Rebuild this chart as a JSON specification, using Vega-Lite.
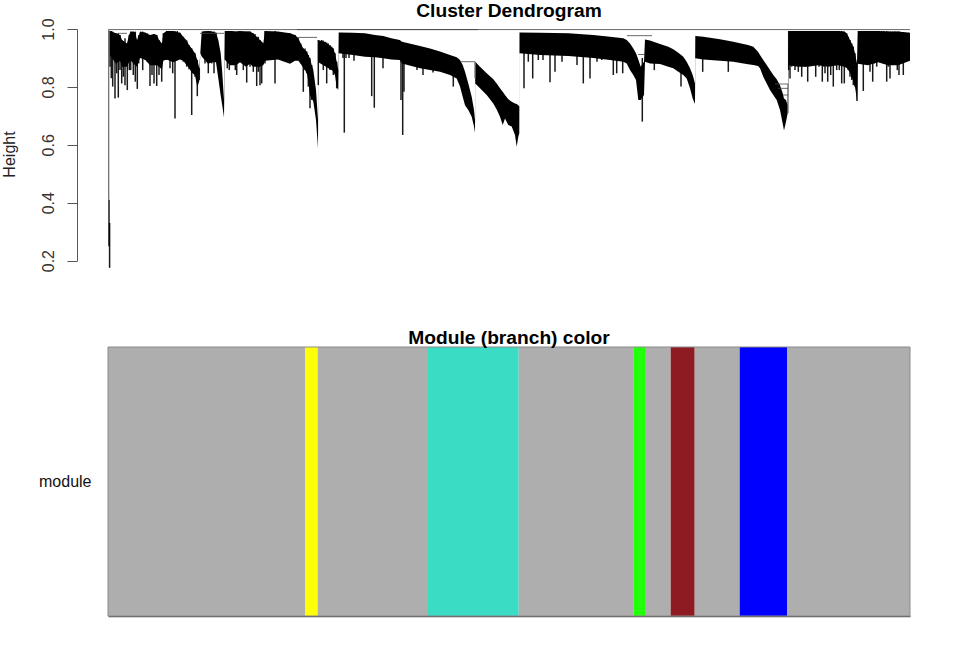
{"$schema":"https://vega.github.io/schema/vega-lite/v6.json","background":"white","padding":{"left":0,"top":1,"right":51,"bottom":30},"spacing":57,"config":{"view":{"stroke":null},"font":"Liberation Sans","title":{"font":"Liberation Sans","fontSize":19.2,"fontWeight":"bold","color":"#000000","anchor":"middle"}},
"datasets":{"body":[
{"x":2,"top":0.993,"bottom":0.91},{"x":8,"top":0.985,"bottom":0.88},{"x":12,"top":0.979,"bottom":0.89},{"x":14,"top":0.962,"bottom":0.87},{"x":19,"top":0.95,"bottom":0.87},{"x":21,"top":0.979,"bottom":0.885},{"x":23,"top":0.991,"bottom":0.89},{"x":27,"top":0.99,"bottom":0.875},{"x":29,"top":0.962,"bottom":0.87},{"x":31,"top":0.979,"bottom":0.89},{"x":32,"top":0.991,"bottom":0.9},{"x":37,"top":0.988,"bottom":0.895},{"x":42,"top":0.979,"bottom":0.875},{"x":46,"top":0.983,"bottom":0.875},{"x":49,"top":0.979,"bottom":0.875},{"x":51,"top":0.962,"bottom":0.87},{"x":54,"top":0.95,"bottom":0.86},{"x":55.3,"top":0.985,"bottom":0.89},{"x":58.7,"top":0.993,"bottom":0.895},{"x":65,"top":0.993,"bottom":0.885},{"x":72,"top":0.987,"bottom":0.895},{"x":75.3,"top":0.973,"bottom":0.89},{"x":78.7,"top":0.96,"bottom":0.875},{"x":81,"top":0.945,"bottom":0.865},{"x":83.7,"top":0.933,"bottom":0.85},{"x":87,"top":0.916,"bottom":0.84},{"x":89.3,"top":0.893,"bottom":0.8},{"x":91.3,"top":0.864,"bottom":0.82},{"x":92.3,"top":0.916,"bottom":0.916},{"x":93.7,"top":0.991,"bottom":0.905},{"x":100,"top":0.993,"bottom":0.88},{"x":104,"top":0.991,"bottom":0.885},{"x":108,"top":0.987,"bottom":0.885},{"x":110.3,"top":0.962,"bottom":0.83},{"x":112.7,"top":0.916,"bottom":0.77},{"x":114.3,"top":0.847,"bottom":0.735},{"x":116,"top":0.755,"bottom":0.694},{"x":116.7,"top":0.993,"bottom":0.895},{"x":122,"top":0.993,"bottom":0.875},{"x":128,"top":0.991,"bottom":0.875},{"x":132,"top":0.993,"bottom":0.885},{"x":138,"top":0.991,"bottom":0.87},{"x":142,"top":0.991,"bottom":0.88},{"x":145,"top":0.985,"bottom":0.87},{"x":148.7,"top":0.973,"bottom":0.87},{"x":152,"top":0.962,"bottom":0.87},{"x":155.3,"top":0.95,"bottom":0.875},{"x":157,"top":0.993,"bottom":0.89},{"x":170,"top":0.991,"bottom":0.895},{"x":182,"top":0.985,"bottom":0.88},{"x":187,"top":0.979,"bottom":0.89},{"x":190.3,"top":0.968,"bottom":0.89},{"x":192.7,"top":0.95,"bottom":0.88},{"x":195.3,"top":0.933,"bottom":0.865},{"x":198.7,"top":0.922,"bottom":0.85},{"x":200.3,"top":0.91,"bottom":0.82},{"x":202,"top":0.899,"bottom":0.77},{"x":203.7,"top":0.876,"bottom":0.76},{"x":205.3,"top":0.858,"bottom":0.75},{"x":208,"top":0.789,"bottom":0.686},{"x":210,"top":0.686,"bottom":0.588},
{"x":210.3,"top":0.962,"bottom":0.885},{"x":218,"top":0.953,"bottom":0.87},{"x":225,"top":0.933,"bottom":0.855},{"x":227,"top":0.916,"bottom":0.84},{"x":228.7,"top":0.887,"bottom":0.8},{"x":230.3,"top":0.858,"bottom":0.789},
{"x":230.7,"top":0.988,"bottom":0.916},{"x":245,"top":0.987,"bottom":0.91},{"x":257,"top":0.985,"bottom":0.904},{"x":267,"top":0.979,"bottom":0.902},{"x":275.3,"top":0.976,"bottom":0.899},{"x":283.3,"top":0.968,"bottom":0.895},{"x":291.7,"top":0.962,"bottom":0.893},{"x":294,"top":0.956,"bottom":0.881},{"x":312,"top":0.941,"bottom":0.864},{"x":322,"top":0.933,"bottom":0.858},{"x":332,"top":0.922,"bottom":0.852},{"x":342,"top":0.91,"bottom":0.841},{"x":348.7,"top":0.902,"bottom":0.829},{"x":352,"top":0.893,"bottom":0.801},{"x":354.7,"top":0.876,"bottom":0.766},{"x":357,"top":0.852,"bottom":0.737},{"x":360.3,"top":0.812,"bottom":0.72},{"x":363.7,"top":0.766,"bottom":0.697},{"x":366,"top":0.72,"bottom":0.663},{"x":367,"top":0.686,"bottom":0.642},
{"x":367.3,"top":0.887,"bottom":0.812},{"x":372,"top":0.87,"bottom":0.795},{"x":378.7,"top":0.847,"bottom":0.772},{"x":385.3,"top":0.826,"bottom":0.743},{"x":388.7,"top":0.812,"bottom":0.722},{"x":392,"top":0.795,"bottom":0.697},{"x":394.7,"top":0.783,"bottom":0.668},{"x":397,"top":0.772,"bottom":0.691},{"x":400.3,"top":0.757,"bottom":0.668},{"x":403.7,"top":0.749,"bottom":0.663},{"x":407,"top":0.743,"bottom":0.634},{"x":408.7,"top":0.741,"bottom":0.593},{"x":410.3,"top":0.737,"bottom":0.628},{"x":411.3,"top":0.732,"bottom":0.64},
{"x":411.5,"top":0.988,"bottom":0.916},{"x":432,"top":0.987,"bottom":0.91},{"x":460.3,"top":0.985,"bottom":0.907},{"x":485.3,"top":0.979,"bottom":0.9},{"x":502,"top":0.973,"bottom":0.893},{"x":515.3,"top":0.968,"bottom":0.887},{"x":518.7,"top":0.962,"bottom":0.881},{"x":522,"top":0.95,"bottom":0.858},{"x":525.3,"top":0.933,"bottom":0.841},{"x":528,"top":0.916,"bottom":0.824},{"x":530.3,"top":0.895,"bottom":0.755},{"x":532.7,"top":0.87,"bottom":0.755},{"x":536,"top":0.887,"bottom":0.772},
{"x":537,"top":0.964,"bottom":0.887},{"x":542,"top":0.96,"bottom":0.881},{"x":552,"top":0.948,"bottom":0.879},{"x":560.3,"top":0.939,"bottom":0.87},{"x":565.3,"top":0.93,"bottom":0.864},{"x":570.3,"top":0.918,"bottom":0.852},{"x":575.3,"top":0.904,"bottom":0.841},{"x":578.7,"top":0.887,"bottom":0.829},{"x":582,"top":0.864,"bottom":0.795},{"x":584.7,"top":0.841,"bottom":0.76},{"x":587,"top":0.812,"bottom":0.741},
{"x":587.3,"top":0.976,"bottom":0.899},{"x":595.3,"top":0.973,"bottom":0.895},{"x":612,"top":0.965,"bottom":0.89},{"x":625.3,"top":0.956,"bottom":0.887},{"x":640,"top":0.945,"bottom":0.878},{"x":645.3,"top":0.939,"bottom":0.876},{"x":650,"top":0.921,"bottom":0.872},{"x":652,"top":0.91,"bottom":0.864},{"x":655.3,"top":0.893,"bottom":0.835},{"x":658.7,"top":0.876,"bottom":0.812},{"x":662,"top":0.858,"bottom":0.789},{"x":665.3,"top":0.841,"bottom":0.772},{"x":668.7,"top":0.826,"bottom":0.755},{"x":672,"top":0.806,"bottom":0.72},{"x":674.7,"top":0.778,"bottom":0.674},{"x":676,"top":0.76,"bottom":0.649},{"x":678,"top":0.755,"bottom":0.68},{"x":679.7,"top":0.737,"bottom":0.709},
{"x":680.7,"top":0.993,"bottom":0.875},{"x":690,"top":0.993,"bottom":0.87},{"x":700,"top":0.993,"bottom":0.87},{"x":710,"top":0.993,"bottom":0.875},{"x":720,"top":0.993,"bottom":0.87},{"x":730,"top":0.993,"bottom":0.875},{"x":736.3,"top":0.991,"bottom":0.87},{"x":738.7,"top":0.985,"bottom":0.865},{"x":742,"top":0.962,"bottom":0.85},{"x":745.3,"top":0.939,"bottom":0.82},{"x":747,"top":0.916,"bottom":0.8},{"x":749,"top":0.881,"bottom":0.755},{"x":749.7,"top":0.993,"bottom":0.88},{"x":760,"top":0.993,"bottom":0.875},{"x":770,"top":0.993,"bottom":0.885},{"x":780,"top":0.991,"bottom":0.875},{"x":790,"top":0.991,"bottom":0.875},{"x":802,"top":0.987,"bottom":0.89}
],"needles":[
{"x":2,"top":0.993,"bottom":0.87},{"x":3.3,"top":0.993,"bottom":0.83},{"x":4.7,"top":0.991,"bottom":0.801},{"x":7,"top":0.985,"bottom":0.76},{"x":8.7,"top":0.985,"bottom":0.847},{"x":10.3,"top":0.985,"bottom":0.763},{"x":12,"top":0.979,"bottom":0.858},{"x":13.7,"top":0.962,"bottom":0.812},{"x":15.3,"top":0.956,"bottom":0.835},{"x":17,"top":0.968,"bottom":0.806},{"x":19.3,"top":0.95,"bottom":0.789},{"x":21.3,"top":0.979,"bottom":0.858},{"x":22.7,"top":0.991,"bottom":0.858},{"x":25.3,"top":0.991,"bottom":0.841},{"x":27.3,"top":0.991,"bottom":0.818},{"x":29.3,"top":0.962,"bottom":0.793},{"x":30.7,"top":0.979,"bottom":0.881},{"x":34.7,"top":0.991,"bottom":0.858},{"x":37,"top":0.987,"bottom":0.893},{"x":39.3,"top":0.985,"bottom":0.887},{"x":42,"top":0.979,"bottom":0.803},{"x":44,"top":0.979,"bottom":0.841},{"x":46,"top":0.983,"bottom":0.812},{"x":48.7,"top":0.979,"bottom":0.803},{"x":51,"top":0.962,"bottom":0.841},{"x":53.7,"top":0.95,"bottom":0.818},{"x":55.3,"top":0.985,"bottom":0.893},{"x":58.7,"top":0.993,"bottom":0.893},{"x":62,"top":0.993,"bottom":0.864},{"x":64.7,"top":0.993,"bottom":0.847},{"x":67,"top":0.993,"bottom":0.691},{"x":69.3,"top":0.993,"bottom":0.893},{"x":72,"top":0.987,"bottom":0.899},{"x":75.3,"top":0.973,"bottom":0.887},{"x":78.7,"top":0.96,"bottom":0.87},{"x":81,"top":0.945,"bottom":0.861},{"x":83.7,"top":0.933,"bottom":0.703},{"x":87,"top":0.916,"bottom":0.835},{"x":89.3,"top":0.893,"bottom":0.768},{"x":91.3,"top":0.864,"bottom":0.824},{"x":97,"top":0.993,"bottom":0.881},{"x":100.3,"top":0.993,"bottom":0.847},{"x":102,"top":0.993,"bottom":0.893},{"x":103.7,"top":0.991,"bottom":0.881},{"x":106,"top":0.991,"bottom":0.847},{"x":108,"top":0.987,"bottom":0.893},{"x":119.3,"top":0.993,"bottom":0.864},{"x":121.3,"top":0.991,"bottom":0.858},{"x":123.3,"top":0.993,"bottom":0.904},{"x":125.3,"top":0.993,"bottom":0.887},{"x":127.3,"top":0.991,"bottom":0.858},{"x":128.7,"top":0.991,"bottom":0.841},{"x":130.3,"top":0.991,"bottom":0.893},{"x":132,"top":0.993,"bottom":0.887},{"x":135.3,"top":0.991,"bottom":0.858},{"x":137,"top":0.991,"bottom":0.881},{"x":138.7,"top":0.991,"bottom":0.815},{"x":140.3,"top":0.991,"bottom":0.881},{"x":142,"top":0.991,"bottom":0.87},{"x":145.3,"top":0.985,"bottom":0.852},{"x":147,"top":0.983,"bottom":0.881},{"x":148.7,"top":0.973,"bottom":0.803},{"x":150.3,"top":0.973,"bottom":0.852},{"x":152,"top":0.962,"bottom":0.806},{"x":153.7,"top":0.956,"bottom":0.812},{"x":155.3,"top":0.95,"bottom":0.881},{"x":157,"top":0.993,"bottom":0.881},{"x":167,"top":0.993,"bottom":0.812},{"x":182,"top":0.985,"bottom":0.887},{"x":187,"top":0.979,"bottom":0.893},{"x":190.3,"top":0.968,"bottom":0.893},{"x":192.7,"top":0.95,"bottom":0.881},{"x":195.3,"top":0.933,"bottom":0.783},{"x":197,"top":0.933,"bottom":0.858},{"x":198.7,"top":0.922,"bottom":0.847},{"x":200.3,"top":0.91,"bottom":0.801},{"x":202,"top":0.899,"bottom":0.726},{"x":203.7,"top":0.876,"bottom":0.755},
{"x":210.3,"top":0.962,"bottom":0.806},{"x":213.7,"top":0.962,"bottom":0.881},{"x":215.3,"top":0.96,"bottom":0.858},{"x":217,"top":0.956,"bottom":0.881},{"x":218.7,"top":0.953,"bottom":0.812},{"x":220.3,"top":0.95,"bottom":0.881},{"x":222,"top":0.945,"bottom":0.858},{"x":223.7,"top":0.939,"bottom":0.87},{"x":225.3,"top":0.933,"bottom":0.841},{"x":227,"top":0.916,"bottom":0.858},{"x":228.7,"top":0.887,"bottom":0.795},
{"x":235,"top":0.95,"bottom":0.9},{"x":236.3,"top":0.95,"bottom":0.642},{"x":238,"top":0.95,"bottom":0.9},{"x":241,"top":0.95,"bottom":0.9},{"x":246,"top":0.95,"bottom":0.89},{"x":263.7,"top":0.95,"bottom":0.768},{"x":266.3,"top":0.95,"bottom":0.728},{"x":275,"top":0.95,"bottom":0.864},{"x":293,"top":0.95,"bottom":0.755},{"x":294.7,"top":0.95,"bottom":0.634},{"x":296,"top":0.93,"bottom":0.783},{"x":309,"top":0.9,"bottom":0.858},{"x":315,"top":0.9,"bottom":0.841},{"x":325,"top":0.9,"bottom":0.85},{"x":345.3,"top":0.88,"bottom":0.801},
{"x":416,"top":0.95,"bottom":0.795},{"x":420.3,"top":0.95,"bottom":0.887},{"x":424.7,"top":0.95,"bottom":0.829},{"x":430.3,"top":0.95,"bottom":0.893},{"x":435,"top":0.95,"bottom":0.893},{"x":442,"top":0.95,"bottom":0.816},{"x":447,"top":0.95,"bottom":0.852},{"x":454,"top":0.95,"bottom":0.887},{"x":469,"top":0.95,"bottom":0.876},{"x":475.3,"top":0.95,"bottom":0.812},{"x":482,"top":0.95,"bottom":0.829},{"x":489,"top":0.95,"bottom":0.887},{"x":493.7,"top":0.95,"bottom":0.893},{"x":505.3,"top":0.92,"bottom":0.841},{"x":508.7,"top":0.92,"bottom":0.847},{"x":514.7,"top":0.92,"bottom":0.847},{"x":534.3,"top":0.9,"bottom":0.68},{"x":546.3,"top":0.93,"bottom":0.858},{"x":573,"top":0.9,"bottom":0.801},{"x":594.7,"top":0.93,"bottom":0.852},{"x":620.3,"top":0.93,"bottom":0.852},
{"x":680.7,"top":0.993,"bottom":0.858},{"x":682,"top":0.993,"bottom":0.829},{"x":683.7,"top":0.993,"bottom":0.87},{"x":687,"top":0.993,"bottom":0.858},{"x":690.3,"top":0.993,"bottom":0.852},{"x":692,"top":0.993,"bottom":0.881},{"x":693.7,"top":0.993,"bottom":0.835},{"x":697,"top":0.993,"bottom":0.87},{"x":699.7,"top":0.993,"bottom":0.818},{"x":702,"top":0.993,"bottom":0.881},{"x":703.7,"top":0.993,"bottom":0.876},{"x":707.7,"top":0.993,"bottom":0.835},{"x":709.3,"top":0.993,"bottom":0.881},{"x":711,"top":0.993,"bottom":0.87},{"x":714.3,"top":0.993,"bottom":0.818},{"x":716,"top":0.993,"bottom":0.87},{"x":717,"top":0.993,"bottom":0.847},{"x":719.7,"top":0.993,"bottom":0.818},{"x":721.3,"top":0.993,"bottom":0.881},{"x":722.7,"top":0.993,"bottom":0.841},{"x":725.3,"top":0.993,"bottom":0.801},{"x":727,"top":0.993,"bottom":0.881},{"x":728.7,"top":0.993,"bottom":0.858},{"x":731.3,"top":0.993,"bottom":0.858},{"x":733.7,"top":0.993,"bottom":0.812},{"x":736.3,"top":0.991,"bottom":0.812},{"x":738.7,"top":0.985,"bottom":0.87},{"x":740.3,"top":0.973,"bottom":0.858},{"x":742,"top":0.962,"bottom":0.835},{"x":743.7,"top":0.95,"bottom":0.824},{"x":745.3,"top":0.939,"bottom":0.806},{"x":747,"top":0.916,"bottom":0.801},{"x":749,"top":0.881,"bottom":0.751},{"x":752,"top":0.993,"bottom":0.881},{"x":755.3,"top":0.993,"bottom":0.786},{"x":757,"top":0.993,"bottom":0.881},{"x":758.7,"top":0.993,"bottom":0.881},{"x":762,"top":0.993,"bottom":0.852},{"x":764.7,"top":0.993,"bottom":0.818},{"x":766.3,"top":0.993,"bottom":0.881},{"x":768.7,"top":0.993,"bottom":0.87},{"x":771.3,"top":0.993,"bottom":0.887},{"x":773.7,"top":0.993,"bottom":0.887},{"x":776,"top":0.993,"bottom":0.881},{"x":778.7,"top":0.993,"bottom":0.818},{"x":780.3,"top":0.991,"bottom":0.87},{"x":782,"top":0.991,"bottom":0.829},{"x":784.7,"top":0.991,"bottom":0.881},{"x":787,"top":0.991,"bottom":0.881},{"x":789.3,"top":0.991,"bottom":0.858},{"x":791,"top":0.991,"bottom":0.841},{"x":793,"top":0.987,"bottom":0.887},{"x":795.3,"top":0.987,"bottom":0.841},{"x":797,"top":0.987,"bottom":0.887},{"x":800.3,"top":0.987,"bottom":0.893},
{"x":1,"top":0.41,"bottom":0.25},{"x":1.6,"top":0.33,"bottom":0.175}
],"links":[
{"x":0.5,"x2":802,"h":0.998},{"x":189,"x2":370,"h":0.998},{"x":189,"x2":209,"h":0.971},{"x":92,"x2":116,"h":0.985},{"x":10,"x2":19,"h":0.985},{"x":352,"x2":367,"h":0.887},{"x":519,"x2":544,"h":0.977},{"x":530,"x2":537,"h":0.912},{"x":667,"x2":680,"h":0.81},{"x":670,"x2":680,"h":0.795},{"x":675,"x2":680,"h":0.772}
],"stems":[{"x":0.7,"top":0.998,"bottom":0.41},{"x":680,"top":0.81,"bottom":0.71},{"x":367,"top":0.887,"bottom":0.83}],
"modules":[
{"track":"module","start":0,"end":197,"module":"grey"},{"track":"module","start":197,"end":209.7,"module":"yellow"},{"track":"module","start":209.7,"end":320,"module":"grey"},{"track":"module","start":320,"end":410.7,"module":"turquoise"},{"track":"module","start":410.7,"end":525.3,"module":"grey"},{"track":"module","start":525.3,"end":537,"module":"green"},{"track":"module","start":537,"end":562.7,"module":"grey"},{"track":"module","start":562.7,"end":586.7,"module":"brown"},{"track":"module","start":586.7,"end":631.7,"module":"grey"},{"track":"module","start":631.7,"end":679,"module":"blue"},{"track":"module","start":679,"end":802,"module":"grey"}
],"frame":[{"track":"module","start":0,"end":802}]},
"vconcat":[
{"width":802,"height":231.6,"title":{"text":"Cluster Dendrogram","offset":-3},
"layer":[
{"data":{"name":"body"},"mark":{"type":"area","color":"#000000","clip":false,"interpolate":"linear"},"encoding":{"x":{"field":"x","type":"quantitative","scale":{"domain":[0,802],"nice":false,"zero":false},"axis":null},"y":{"field":"top","type":"quantitative","scale":{"domain":[0.2,1],"nice":false,"zero":false,"clamp":false},"axis":{"title":"Height","titleFontSize":16,"titleFontWeight":"normal","titleFont":"Liberation Sans","titleColor":"#222222","titlePadding":23,"titleY":125,"values":[0.2,0.4,0.6,0.8,1],"format":".1f","labelAngle":-90,"labelAlign":"center","labelBaseline":"bottom","labelFontSize":16,"labelFont":"Liberation Sans","labelColor":"#333333","labelPadding":11,"tickSize":10,"tickColor":"#555555","domainColor":"#555555","offset":31,"grid":false}},"y2":{"field":"bottom"}}},
{"data":{"name":"needles"},"mark":{"type":"rule","color":"#000000","strokeWidth":1.5,"opacity":0.9},"encoding":{"x":{"field":"x","type":"quantitative"},"y":{"field":"top","type":"quantitative"},"y2":{"field":"bottom"}}},
{"data":{"name":"stems"},"mark":{"type":"rule","color":"#666666","strokeWidth":1.2},"encoding":{"x":{"field":"x","type":"quantitative"},"y":{"field":"top","type":"quantitative"},"y2":{"field":"bottom"}}},
{"data":{"name":"links"},"mark":{"type":"rule","color":"#444444","strokeWidth":0.8},"encoding":{"x":{"field":"x","type":"quantitative"},"x2":{"field":"x2"},"y":{"field":"h","type":"quantitative"}}}
]},
{"width":802,"height":269,"title":{"text":"Module (branch) color","offset":-2},
"layer":[
{"data":{"name":"modules"},"mark":{"type":"rect"},"encoding":{"x":{"field":"start","type":"quantitative","scale":{"domain":[0,802],"nice":false,"zero":false},"axis":{"title":null,"labels":false,"ticks":false,"grid":false,"domainColor":"#555555","domainWidth":1.5}},"x2":{"field":"end"},"y":{"field":"track","type":"nominal","scale":{"paddingInner":0,"paddingOuter":0},"axis":{"title":null,"ticks":false,"domain":false,"labelFontSize":16,"labelFont":"Liberation Sans","labelColor":"#111111","labelPadding":17,"labelAngle":0}},"color":{"field":"module","type":"nominal","legend":null,"scale":{"domain":["grey","yellow","turquoise","green","brown","blue"],"range":["#AEAEAE","#FFFF0A","#3ADCC4","#22FF0A","#8E1A22","#0000FF"]}}}},
{"data":{"name":"frame"},"mark":{"type":"rect","fillOpacity":0,"stroke":"#8A8A8A","strokeWidth":1},"encoding":{"x":{"field":"start","type":"quantitative"},"x2":{"field":"end"},"y":{"field":"track","type":"nominal"}}}
]}
]}
